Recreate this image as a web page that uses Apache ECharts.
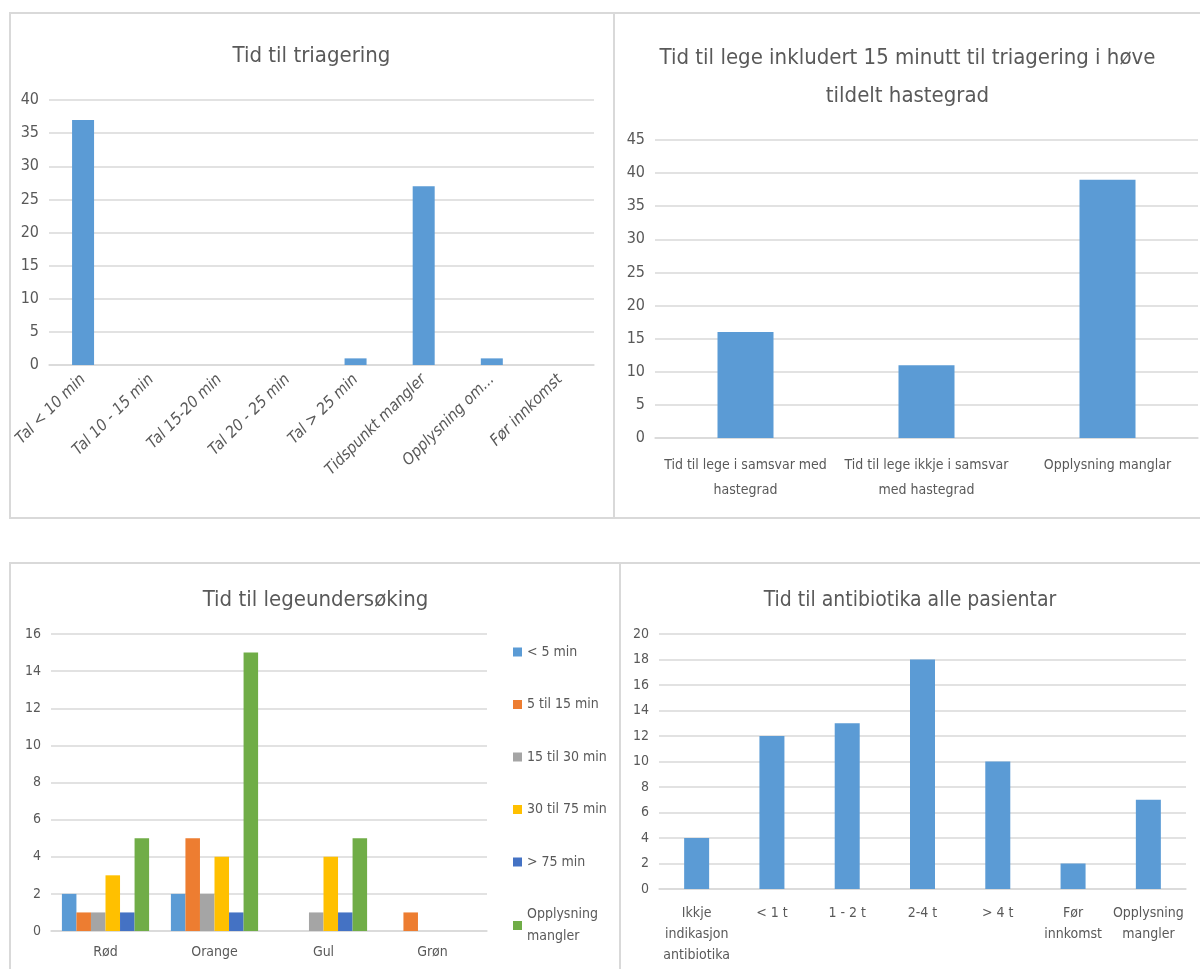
<!DOCTYPE html>
<html>
<head>
<meta charset="utf-8">
<title>Tidsbruk i akuttmottaket</title>
<script src="https://cdn.jsdelivr.net/npm/echarts@6/dist/echarts.min.js"></script>
<style>
  html, body { margin: 0; padding: 0; background: #ffffff; }
  body { width: 1200px; height: 969px; position: relative; overflow: hidden; }
  .frame { position: absolute; box-sizing: border-box; border: 2px solid #d9d9d9; }
  .chart { position: absolute; }
</style>
</head>
<body>
<div class="frame" style="left:9px;top:12px;width:606px;height:507px;"></div>
<div class="frame" style="left:613px;top:12px;width:600px;height:507px;"></div>
<div class="frame" style="left:9px;top:562px;width:612px;height:420px;"></div>
<div class="frame" style="left:619px;top:562px;width:600px;height:420px;"></div>

<div id="c1" class="chart" style="left:10px;top:13px;width:603px;height:505px;"></div>
<div id="c2" class="chart" style="left:615px;top:13px;width:585px;height:505px;"></div>
<div id="c3" class="chart" style="left:11px;top:563px;width:609px;height:406px;"></div>
<div id="c4" class="chart" style="left:620px;top:563px;width:580px;height:406px;"></div>

<script>
// Tid til triagering
const triageCategories = ['Tal < 10 min', 'Tal 10 - 15 min', 'Tal 15-20 min', 'Tal 20 - 25 min',
  'Tal > 25 min', 'Tidspunkt mangler', 'Opplysning om...', 'Før innkomst'];
const triageValues = [37, 0, 0, 0, 1, 27, 1, 0];

// Tid til lege i høve tildelt hastegrad
const legeCategories = ['Tid til lege i samsvar med\nhastegrad', 'Tid til lege ikkje i samsvar\nmed hastegrad', 'Opplysning manglar'];
const legeValues = [16, 11, 39];

// Tid til legeundersøking per hastegrad
const hastegrad = ['Rød', 'Orange', 'Gul', 'Grøn'];
const under5 = [2, 2, 0, 0];
const fra5til15 = [1, 5, 0, 1];
const fra15til30 = [1, 2, 1, 0];
const fra30til75 = [3, 4, 4, 0];
const over75 = [1, 1, 1, 0];
const undersokMangler = [5, 15, 5, 0];
const undersokSeriesNames = ['< 5 min', '5 til 15 min', '15 til 30 min', '30 til 75 min', '> 75 min', 'Opplysning\nmangler'];

// Tid til antibiotika
const antibiotikaCategories = ['Ikkje\nindikasjon\nantibiotika', '< 1 t', '1 - 2 t', '2-4 t', '> 4 t', 'Før\ninnkomst', 'Opplysning\nmangler'];
const antibiotikaValues = [4, 12, 13, 18, 10, 2, 7];

const FONT = "'DejaVu Sans Condensed', 'Liberation Sans', sans-serif";
const TEXT = '#595959';
const GRID = '#d9d9d9';
const BLUE = '#5b9bd5';
const undersokColors = ['#5b9bd5', '#ed7d31', '#a5a5a5', '#ffc000', '#4472c4', '#70ad47'];

function valueAxis(max, interval, fontSize) {
  return {
    type: 'value', min: 0, max: max, interval: interval,
    axisLine: { show: false }, axisTick: { show: false },
    axisLabel: { color: TEXT, fontFamily: FONT, fontSize: fontSize, margin: 10 },
    splitLine: { lineStyle: { color: GRID, width: 1.5 } }
  };
}

function categoryAxis(data, labelExtra) {
  return {
    type: 'category', data: data,
    axisLine: { lineStyle: { color: GRID, width: 1.5 } },
    axisTick: { show: false },
    axisLabel: Object.assign({ color: TEXT, fontFamily: FONT, interval: 0 }, labelExtra)
  };
}

function titleOf(text, top, size, lineHeight) {
  return {
    text: text, left: 'center', top: top,
    textStyle: { color: TEXT, fontFamily: FONT, fontWeight: 'normal', fontSize: size, lineHeight: lineHeight }
  };
}

// Chart 1
echarts.init(document.getElementById('c1')).setOption({
  animation: false,
  title: titleOf('Tid til triagering', 23, 22, 30),
  grid: { left: 39, right: 19, top: 87, bottom: 153, containLabel: false },
  xAxis: categoryAxis(triageCategories, { rotate: 45, fontStyle: 'italic', fontSize: 16, margin: 12 }),
  yAxis: valueAxis(40, 5, 16),
  series: [{ type: 'bar', data: triageValues, barWidth: 22, itemStyle: { color: BLUE } }]
});

// Chart 2
echarts.init(document.getElementById('c2')).setOption({
  animation: false,
  title: titleOf('Tid til lege inkludert 15 minutt til triagering i høve\ntildelt hastegrad', 21, 22, 38),
  grid: { left: 40, right: 2, top: 127, bottom: 80, containLabel: false },
  xAxis: categoryAxis(legeCategories, { fontSize: 14, lineHeight: 25, margin: 15 }),
  yAxis: valueAxis(45, 5, 16),
  series: [{ type: 'bar', data: legeValues, barWidth: 56, itemStyle: { color: BLUE } }]
});

// Chart 3
const undersokData = [under5, fra5til15, fra15til30, fra30til75, over75, undersokMangler];
echarts.init(document.getElementById('c3')).setOption({
  animation: false,
  title: titleOf('Tid til legeundersøking', 17, 22, 30),
  legend: {
    orient: 'vertical', left: 502, top: 78, itemGap: 30.5, padding: 0,
    icon: 'rect', itemWidth: 9, itemHeight: 9,
    textStyle: { color: TEXT, fontFamily: FONT, fontSize: 14, lineHeight: 22 },
    data: undersokSeriesNames
  },
  grid: { left: 40, right: 133, top: 71, bottom: 38, containLabel: false },
  xAxis: categoryAxis(hastegrad, { fontSize: 14, margin: 14 }),
  yAxis: valueAxis(16, 2, 14),
  series: undersokData.map((vals, i) => ({
    type: 'bar', name: undersokSeriesNames[i], data: vals,
    barGap: '0%', barCategoryGap: '20%',
    itemStyle: { color: undersokColors[i] }
  }))
});

// Chart 4
echarts.init(document.getElementById('c4')).setOption({
  animation: false,
  title: titleOf('Tid til antibiotika alle pasientar', 18, 21, 30),
  grid: { left: 39, right: 14, top: 71, bottom: 80, containLabel: false },
  xAxis: categoryAxis(antibiotikaCategories, { fontSize: 14, lineHeight: 21, margin: 14, verticalAlign: 'top' }),
  yAxis: valueAxis(20, 2, 14),
  series: [{ type: 'bar', data: antibiotikaValues, barWidth: 25, itemStyle: { color: BLUE } }]
});
</script>
</body>
</html>
